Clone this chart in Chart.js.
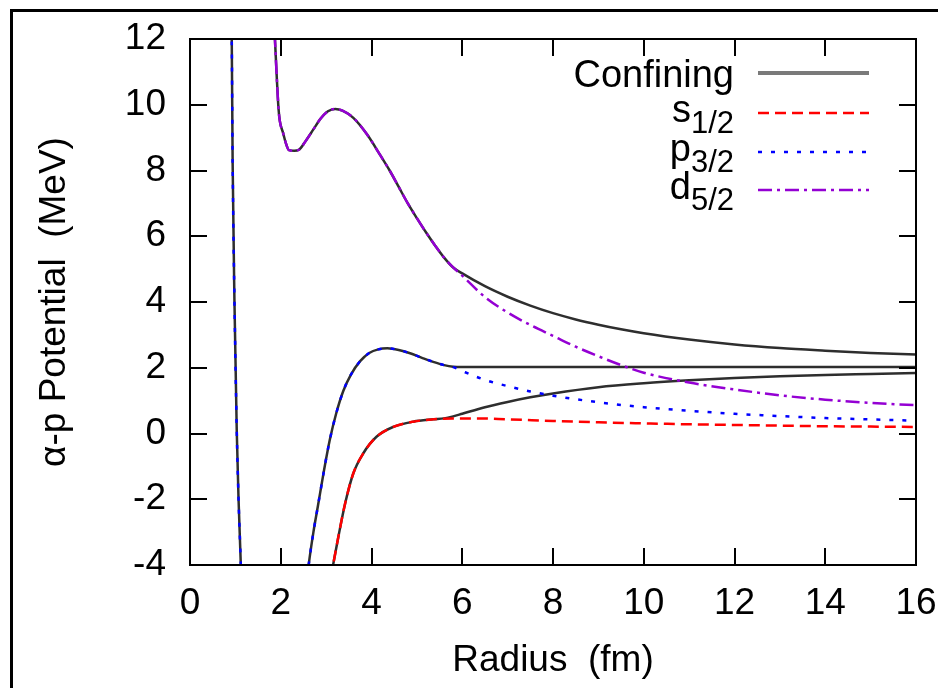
<!DOCTYPE html>
<html><head><meta charset="utf-8">
<script src="https://cdn.jsdelivr.net/npm/chart.js@4/dist/chart.umd.min.js"></script>
<style>html,body{margin:0;padding:0;background:#fff;}#wrap{width:938px;height:688px;position:relative;overflow:hidden;}</style>
</head><body><div id="wrap"><canvas id="c" width="938" height="688"></canvas></div>
<script>
// ---- data (radius in fm, potential in MeV) ----
const xTickValues = [0, 2, 4, 6, 8, 10, 12, 14, 16];
const yTickValues = [-4, -2, 0, 2, 4, 6, 8, 10, 12];

// s1/2 potential
const sR = [3.10, 3.16, 3.27, 3.42, 3.60, 3.82, 4.11, 4.48, 4.92, 5.36, 5.80, 6.30, 7, 8, 9, 10, 11, 12, 13, 14, 15, 16];
const sV = [-4.4, -3.95, -3.14, -2.12, -1.21, -0.60, -0.10, 0.20, 0.36, 0.43, 0.46, 0.46, 0.43, 0.38, 0.34, 0.31, 0.28, 0.26, 0.24, 0.22, 0.21, 0.20];
// s1/2 confining
const sConfR = [3.10, 3.16, 3.27, 3.42, 3.60, 3.82, 4.11, 4.48, 4.92, 5.36, 5.60, 5.80, 6.0, 6.5, 7, 7.5, 8, 9, 10, 11, 12, 13, 14, 15, 16];
const sConfV = [-4.4, -3.95, -3.14, -2.12, -1.21, -0.60, -0.10, 0.20, 0.36, 0.43, 0.46, 0.52, 0.60, 0.80, 0.96, 1.10, 1.22, 1.41, 1.53, 1.62, 1.69, 1.74, 1.78, 1.81, 1.84];

// p3/2 potential: inner branch and outer branch
const pInR = [0.90, 0.92, 0.94, 0.98, 1.03, 1.07, 1.12, 1.15];
const pInV = [13.5, 12.0, 8.2, 4.0, 0.1, -2.0, -4.0, -5.5];
const pR = [2.55, 2.62, 2.72, 2.82, 2.95, 3.08, 3.22, 3.38, 3.55, 3.75, 3.95, 4.15, 4.35, 4.6, 4.85, 5.1, 5.36, 5.6, 5.8, 6.0, 6.5, 7, 7.5, 8, 9, 10, 11, 12, 13, 14, 15, 16];
const pV = [-4.8, -3.95, -3.0, -2.2, -1.15, -0.2, 0.6, 1.3, 1.8, 2.2, 2.45, 2.56, 2.59, 2.54, 2.44, 2.31, 2.18, 2.08, 2.02, 1.90, 1.63, 1.44, 1.28, 1.15, 0.95, 0.80, 0.69, 0.60, 0.53, 0.47, 0.43, 0.39];
// p3/2 confining (outer branch)
const pConfR = [2.55, 2.62, 2.72, 2.82, 2.95, 3.08, 3.22, 3.38, 3.55, 3.75, 3.95, 4.15, 4.35, 4.6, 4.85, 5.1, 5.36, 5.6, 5.8, 6.0, 8, 10, 12, 14, 16];
const pConfV = [-4.8, -3.95, -3.0, -2.2, -1.15, -0.2, 0.6, 1.3, 1.8, 2.2, 2.45, 2.56, 2.59, 2.54, 2.44, 2.31, 2.18, 2.08, 2.03, 2.02, 2.02, 2.02, 2.02, 2.02, 2.02];

// d5/2 potential
const dR = [1.84, 1.87, 1.91, 1.95, 1.98, 2.05, 2.12, 2.18, 2.30, 2.40, 2.55, 2.72, 2.88, 3.04, 3.20, 3.36, 3.60, 3.90, 4.20, 4.40, 4.60, 4.80, 5.00, 5.20, 5.40, 5.60, 5.80, 6.0, 6.5, 7, 7.5, 8, 8.5, 9, 9.5, 10, 11, 12, 13, 14, 15, 16];
const dV = [13.0, 12.05, 10.9, 9.9, 9.5, 9.15, 8.8, 8.62, 8.60, 8.63, 8.90, 9.25, 9.58, 9.80, 9.87, 9.82, 9.60, 9.10, 8.45, 8.00, 7.50, 7.00, 6.55, 6.12, 5.72, 5.35, 5.05, 4.80, 4.15, 3.68, 3.30, 2.97, 2.64, 2.35, 2.08, 1.85, 1.55, 1.34, 1.16, 1.03, 0.93, 0.86];
// d5/2 confining
const dConfR = [1.84, 1.87, 1.91, 1.95, 1.98, 2.05, 2.12, 2.18, 2.30, 2.40, 2.55, 2.72, 2.88, 3.04, 3.20, 3.36, 3.60, 3.90, 4.20, 4.40, 4.60, 4.80, 5.00, 5.20, 5.40, 5.60, 5.80, 6.0, 6.5, 7, 7.5, 8, 8.5, 9, 9.5, 10, 11, 12, 13, 14, 15, 16];
const dConfV = [13.0, 12.05, 10.9, 9.9, 9.5, 9.15, 8.8, 8.62, 8.60, 8.63, 8.90, 9.25, 9.58, 9.80, 9.87, 9.82, 9.60, 9.10, 8.45, 8.00, 7.50, 7.00, 6.55, 6.12, 5.72, 5.35, 5.05, 4.87, 4.48, 4.16, 3.89, 3.66, 3.47, 3.31, 3.17, 3.05, 2.86, 2.71, 2.60, 2.52, 2.45, 2.40];

const legendMain = ['Confining', 's', 'p', 'd'];
const legendSub = ['', '1/2', '3/2', '5/2'];

// ---- styles ----
const FONT = '"Liberation Sans", Arial, Helvetica, sans-serif';
const COL_CONF = '#2e2e2e', COL_S = '#ff0000', COL_P = '#0000ff', COL_D = '#9400d3';
const DASH_S = [11, 6], DASH_P = [4, 9], DASH_D = [14, 5, 3, 5];

function pts(xs, ys) { return xs.map((x, i) => ({x: x, y: ys[i]})); }
function joinGap(a, b) { return a.concat([{x: (a[a.length-1].x + b[0].x) / 2, y: null}], b); }

const common = {showLine: true, pointRadius: 0, pointHoverRadius: 0, fill: false, cubicInterpolationMode: 'monotone', spanGaps: false};

const datasets = [
  Object.assign({label: 's1/2', data: pts(sR, sV), borderColor: COL_S, borderWidth: 2.5, borderDash: DASH_S, order: 0}, common),
  Object.assign({label: 'p3/2', data: joinGap(pts(pInR, pInV), pts(pR, pV)), borderColor: COL_P, borderWidth: 2.5, borderDash: DASH_P, order: 0}, common),
  Object.assign({label: 'd5/2', data: pts(dR, dV), borderColor: COL_D, borderWidth: 2.5, borderDash: DASH_D, order: 0}, common),
  Object.assign({label: 'Confining', data: pts(sConfR, sConfV), borderColor: COL_CONF, borderWidth: 2.5, order: 10}, common),
  Object.assign({label: 'Confining', data: joinGap(pts(pInR, pInV), pts(pConfR, pConfV)), borderColor: COL_CONF, borderWidth: 2.5, order: 10}, common),
  Object.assign({label: 'Confining', data: pts(dConfR, dConfV), borderColor: COL_CONF, borderWidth: 2.5, order: 10}, common)
];

const TICK_LEN = 17;
const framePlugin = {
  id: 'frame',
  beforeDraw(chart) {
    const ctx = chart.ctx;
    ctx.save();
    ctx.fillStyle = '#fff';
    ctx.fillRect(0, 0, chart.width, chart.height);
    ctx.strokeStyle = '#000';
    ctx.lineWidth = 3;
    ctx.strokeRect(11.5, 10.5, chart.width + 20, chart.height + 20);
    ctx.restore();
  },
  afterDraw(chart) {
    const ctx = chart.ctx, a = chart.chartArea;
    const xs = chart.scales.x, ys = chart.scales.y;
    ctx.save();
    ctx.strokeStyle = '#000';
    ctx.lineWidth = 2;
    ctx.beginPath();
    xs.ticks.forEach(t => {
      const px = Math.round(xs.getPixelForValue(t.value));
      ctx.moveTo(px, a.bottom); ctx.lineTo(px, a.bottom - TICK_LEN);
      ctx.moveTo(px, a.top); ctx.lineTo(px, a.top + TICK_LEN);
    });
    ys.ticks.forEach(t => {
      const py = Math.round(ys.getPixelForValue(t.value));
      ctx.moveTo(a.left, py); ctx.lineTo(a.left + TICK_LEN, py);
      ctx.moveTo(a.right, py); ctx.lineTo(a.right - TICK_LEN, py);
    });
    ctx.stroke();
    ctx.lineWidth = 2;
    ctx.strokeRect(a.left, a.top, a.right - a.left, a.bottom - a.top);

    // legend (key)
    const rowY = [73, 113, 152, 190];
    const styles = [
      {c: '#7a7a7a', d: [], w: 4},
      {c: COL_S, d: DASH_S, w: 2.5},
      {c: COL_P, d: DASH_P, w: 2.5},
      {c: COL_D, d: DASH_D, w: 2.5}
    ];
    const textRight = 734, lineX0 = 758, lineX1 = 869;
    ctx.fillStyle = '#000';
    ctx.textBaseline = 'alphabetic';
    for (let i = 0; i < legendMain.length; i++) {
      const y = rowY[i];
      if (legendSub[i]) {
        ctx.font = '31px ' + FONT;
        const sw = ctx.measureText(legendSub[i]).width;
        ctx.textAlign = 'right';
        ctx.fillText(legendSub[i], textRight, y + 20);
        ctx.font = '38px ' + FONT;
        ctx.fillText(legendMain[i], textRight - sw, y + 9);
      } else {
        ctx.font = '38px ' + FONT;
        ctx.textAlign = 'right';
        ctx.fillText(legendMain[i], textRight, y + 14);
      }
      ctx.beginPath();
      ctx.strokeStyle = styles[i].c;
      ctx.lineWidth = styles[i].w;
      ctx.setLineDash(styles[i].d);
      ctx.moveTo(lineX0, y); ctx.lineTo(lineX1, y);
      ctx.stroke();
    }
    ctx.restore();
  }
};

new Chart(document.getElementById('c'), {
  type: 'scatter',
  data: {datasets: datasets},
  options: {
    responsive: false,
    animation: false,
    devicePixelRatio: 1,
    layout: {padding: {left: 0, top: 39, right: 22, bottom: 0}},
    plugins: {legend: {display: false}, tooltip: {enabled: false}},
    scales: {
      x: {
        type: 'linear', min: 0, max: 16,
        afterBuildTicks: s => { s.ticks = xTickValues.map(v => ({value: v})); },
        afterFit: s => { s.height = 123; s.paddingLeft = 0; s.paddingRight = 0; },
        grid: {display: false, drawTicks: false},
        border: {display: false},
        ticks: {color: '#000', padding: 17, maxRotation: 0, autoSkip: false, font: {family: FONT, size: 37}},
        title: {display: true, text: 'Radius  (fm)', color: '#000', padding: {top: 0, bottom: 5}, font: {family: FONT, size: 37}}
      },
      y: {
        type: 'linear', min: -4, max: 12,
        afterBuildTicks: s => { s.ticks = yTickValues.map(v => ({value: v})); },
        afterFit: s => { s.width = 190; s.paddingTop = 0; s.paddingBottom = 0; },
        grid: {display: false, drawTicks: false},
        border: {display: false},
        ticks: {color: '#000', padding: 24, autoSkip: false, font: {family: FONT, size: 37}},
        title: {display: true, text: 'α-p Potential  (MeV)', color: '#000', padding: {top: 33, bottom: 0}, font: {family: FONT, size: 37}}
      }
    }
  },
  plugins: [framePlugin]
});
</script></body></html>
